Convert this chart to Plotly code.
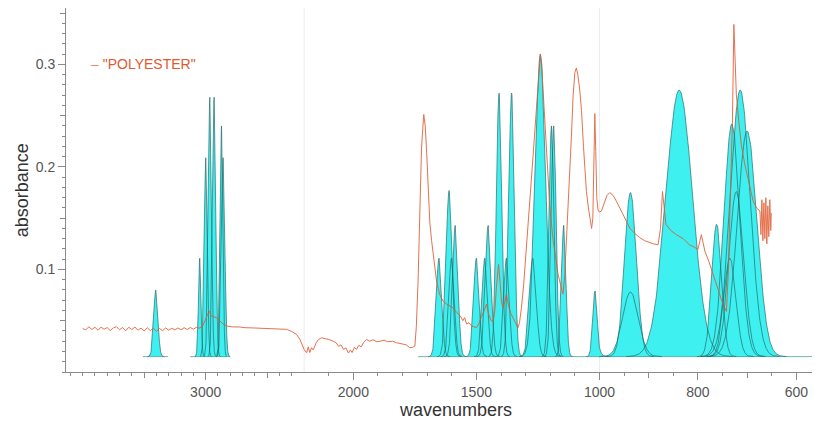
import numpy as np
import plotly.graph_objects as go

# ---------------- data ----------------
# Sample spectrum "POLYESTER": wavenumber (cm-1) and absorbance
poly_wn = [4000, 3975, 3950, 3925, 3900, 3875, 3850, 3825, 3800, 3775, 3750, 3725, 3700, 3675,
           3650, 3625, 3600, 3575, 3550, 3525, 3500, 3475, 3450, 3425, 3400, 3375, 3350, 3325,
           3300, 3275, 3250, 3225, 3200, 3175, 3150, 3125, 3100, 3075, 3050, 3025, 3007, 2990,
           2972, 2960, 2952, 2935, 2911, 2885, 2860, 2830, 2780, 2722, 2680, 2620, 2560, 2478,
           2420, 2343, 2300, 2262, 2235, 2215, 2200, 2190, 2183, 2177, 2170, 2163, 2150, 2140,
           2129, 2115, 2100, 2082, 2070, 2060, 2050, 2040, 2030, 2020, 2012, 2005, 1996, 1987,
           1978, 1968, 1958, 1946, 1935, 1920, 1905, 1892, 1875, 1860, 1840, 1825, 1800, 1785,
           1771, 1760, 1750, 1744, 1737, 1730, 1723, 1714, 1708, 1703, 1696, 1689, 1682, 1672,
           1662, 1650, 1635, 1620, 1605, 1595, 1580, 1565, 1555, 1548, 1540, 1530, 1520, 1510,
           1500, 1490, 1480, 1468, 1459, 1450, 1440, 1432, 1425, 1418, 1410, 1403, 1398, 1392,
           1385, 1378, 1370, 1360, 1351, 1340, 1331, 1325, 1317, 1308, 1300, 1292, 1283, 1270,
           1256, 1247, 1240, 1234, 1226, 1215, 1202, 1188, 1178, 1168, 1158, 1148, 1141, 1134,
           1127, 1121, 1114, 1107, 1100, 1094, 1088, 1080, 1073, 1065, 1058, 1053, 1045, 1038,
           1032, 1027, 1023, 1019, 1015, 1011, 1006, 1000, 996, 990, 985, 979, 972, 965, 959,
           950, 938, 928, 918, 908, 898, 890, 881, 876, 872, 868, 865, 855, 844, 830, 817, 808,
           800, 796, 793, 789, 786, 778, 769, 760, 749, 742, 738, 735, 730, 727, 724, 722, 717,
           712, 705, 698, 693, 688, 681, 674, 672, 670, 668, 666, 664, 662, 660, 658, 656, 654,
           652, 651]
poly_abs = [0.0425, 0.0410, 0.0440, 0.0415, 0.0436, 0.0408, 0.0438, 0.0417, 0.0433, 0.0404,
            0.0430, 0.0442, 0.0412, 0.0434, 0.0403, 0.0436, 0.0414, 0.0439, 0.0407, 0.0428,
            0.0400, 0.0432, 0.0404, 0.0426, 0.0398, 0.0424, 0.0403, 0.0430, 0.0408, 0.0427,
            0.0410, 0.0430, 0.0412, 0.0432, 0.0414, 0.0434, 0.0418, 0.0436, 0.0428, 0.0448,
            0.0497, 0.0540, 0.0595, 0.0560, 0.0546, 0.0538, 0.0530, 0.0497, 0.0470, 0.0448,
            0.0440, 0.0439, 0.0432, 0.0430, 0.0427, 0.0426, 0.0422, 0.0416, 0.0395, 0.0367,
            0.0320, 0.0260, 0.0220, 0.0188, 0.0245, 0.0190, 0.0237, 0.0215, 0.0290, 0.0320,
            0.0334, 0.0325, 0.0318, 0.0300, 0.0285, 0.0250, 0.0265, 0.0220, 0.0235, 0.0185,
            0.0215, 0.0190, 0.0240, 0.0221, 0.0260, 0.0245, 0.0290, 0.0319, 0.0300, 0.0315,
            0.0295, 0.0300, 0.0310, 0.0295, 0.0300, 0.0286, 0.0275, 0.0265, 0.0237, 0.0240,
            0.0253, 0.0450, 0.0887, 0.1500, 0.2186, 0.2512, 0.2400, 0.2186, 0.1760, 0.1450,
            0.1280, 0.1050, 0.0887, 0.0760, 0.0690, 0.0660, 0.0640, 0.0627, 0.0580, 0.0545,
            0.0500, 0.0530, 0.0468, 0.0480, 0.0450, 0.0440, 0.0432, 0.0470, 0.0540, 0.0600,
            0.0663, 0.0560, 0.0500, 0.0497, 0.0600, 0.0850, 0.1050, 0.0850, 0.0680, 0.0627,
            0.0680, 0.0760, 0.0650, 0.0570, 0.0529, 0.0480, 0.0432, 0.0480, 0.0627, 0.0850,
            0.1100, 0.1350, 0.1600, 0.2100, 0.2576, 0.2900, 0.3097, 0.2950, 0.2600, 0.2089,
            0.1620, 0.1277, 0.1100, 0.0952, 0.0850, 0.0760, 0.0950, 0.1277, 0.1650, 0.1930,
            0.2300, 0.2700, 0.2920, 0.2966, 0.2900, 0.2750, 0.2550, 0.2200, 0.1900, 0.1760,
            0.1600, 0.1480, 0.1400, 0.1500, 0.2000, 0.2520, 0.2150, 0.1700, 0.1580, 0.1560,
            0.1570, 0.1650, 0.1720, 0.1750, 0.1720, 0.1660, 0.1600, 0.1510, 0.1400, 0.1350,
            0.1310, 0.1280, 0.1260, 0.1250, 0.1240, 0.1400, 0.1760, 0.1580, 0.1440, 0.1380,
            0.1340, 0.1300, 0.1240, 0.1220, 0.1195, 0.1280, 0.1340, 0.1250, 0.1180, 0.1080,
            0.0950, 0.0800, 0.0660, 0.0590, 0.1000, 0.1570, 0.2420, 0.3390, 0.3000, 0.2710,
            0.2450, 0.2220, 0.2030, 0.1890, 0.1780, 0.1670, 0.1600, 0.1570, 0.1340, 0.1680,
            0.1280, 0.1650, 0.1300, 0.1700, 0.1250, 0.1620, 0.1320, 0.1680, 0.1380, 0.1550]

# Reference (library) bands: centre, peak top absorbance, band width (sigma, cm-1)
ref_center = [3405, 3048, 2999, 2966, 2931, 2871, 2858,
              1652, 1611, 1601, 1586, 1500, 1466, 1452, 1408, 1378, 1357,
              1271, 1240, 1195, 1186, 1145,
              1018, 937, 937, 838, 762, 735, 731, 722, 714, 700]
ref_top = [0.080, 0.111, 0.209, 0.268, 0.268, 0.240, 0.209,
           0.111, 0.177, 0.111, 0.143, 0.111, 0.111, 0.143, 0.272, 0.111, 0.272,
           0.111, 0.310, 0.240, 0.240, 0.143,
           0.079, 0.175, 0.078, 0.275, 0.144, 0.111, 0.242, 0.176, 0.275, 0.235]
ref_sigma = [17, 10, 12, 13, 13, 11, 14,
             11, 12, 11, 11, 11, 11, 12, 11, 11, 11,
             14, 21, 10, 10, 9,
             9, 12, 16, 27, 10, 12, 16, 15, 20, 20]
ref_baseline = 0.015
# wavenumber ranges covered by the reference spectrum
ref_ranges = [(3510, 3306), (3127, 2800), (1737, 550)]

# axis ticks
major_wn = [4000, 3000, 2000, 1500, 1000, 800, 600]
major_txt = ["", "3000", "2000", "1500", "1000", "800", "600"]
medium_wn = [3500, 2500, 900, 700]
minor_wn = (list(range(4100, 2200, -100)) + list(range(2100, 1000, -100))
            + list(range(950, 549, -50)))
y_major = [0.0, 0.1, 0.2, 0.3]
y_major_txt = ["", "0.1", "0.2", "0.3"]
y_medium = [0.05, 0.15, 0.25, 0.35]
y_minor = [round(i * 0.01, 2) for i in range(0, 36)]
breaks_wn = [2200, 1000]


# piecewise-linear wavenumber scale (x2 below 2200, x4 below 1000)
def to_u(wn):
    wn = np.asarray(wn, dtype=float)
    return np.where(wn >= 2200, 4000 - wn,
                    np.where(wn >= 1000, 1800 + (2200 - wn) * 2,
                             4200 + (1000 - wn) * 4))


ORANGE = "#E05A30"
CYAN = "#3EF0F0"
EDGE = "rgba(35,105,105,0.85)"
AXIS = "#8a8a8a"
FONT = "Liberation Sans, Arial, sans-serif"

fig = go.Figure()

# reference band fills
shapes_xy = []
for c, top, s in zip(ref_center, ref_top, ref_sigma):
    w = np.linspace(c - 4 * s, c + 4 * s, 161)
    yv = ref_baseline + (top - ref_baseline) * np.exp(-0.5 * ((w - c) / s) ** 2)
    shapes_xy.append((to_u(w), yv))
    fig.add_trace(go.Scatter(x=to_u(w), y=yv, mode="lines", fill="toself",
                             fillcolor=CYAN, line=dict(width=0), hoverinfo="skip",
                             showlegend=False))
# reference baselines
for a, b in ref_ranges:
    fig.add_trace(go.Scatter(x=to_u([a, b]), y=[ref_baseline, ref_baseline], mode="lines",
                             line=dict(color="rgba(60,150,150,0.7)", width=1),
                             hoverinfo="skip", showlegend=False))
# reference band outlines
for xu, yv in shapes_xy:
    fig.add_trace(go.Scatter(x=xu, y=yv, mode="lines", line=dict(color=EDGE, width=0.8),
                             hoverinfo="skip", showlegend=False))

# sample spectrum
fig.add_trace(go.Scatter(x=to_u(poly_wn), y=poly_abs, mode="lines", name='"POLYESTER"',
                         line=dict(color=ORANGE, width=1), opacity=0.85, showlegend=False))

# invisible trace for overlay axes (medium ticks)
fig.add_trace(go.Scatter(x=[None], y=[None], xaxis="x2", yaxis="y2", showlegend=False,
                         hoverinfo="skip"))

x_range = [float(to_u(4135)), float(to_u(552))]
y_range = [0, 0.355]

for bw in breaks_wn:
    fig.add_shape(type="line", xref="x", yref="paper", x0=float(to_u(bw)), x1=float(to_u(bw)),
                  y0=0, y1=1, line=dict(color="#ececec", width=1), layer="below")

fig.update_layout(
    width=820, height=421,
    margin=dict(l=58, r=8, t=0, b=57),
    paper_bgcolor="white", plot_bgcolor="white",
    font=dict(family=FONT, color="#555555", size=14),
    xaxis=dict(range=x_range, showgrid=False, zeroline=False, showline=True,
               linecolor=AXIS, linewidth=1, ticks="outside", ticklen=7, tickcolor=AXIS,
               tickvals=to_u(major_wn).tolist(), ticktext=major_txt,
               tickfont=dict(size=14, color="#555555"),
               minor=dict(tickvals=to_u(minor_wn).tolist(), ticks="outside", ticklen=3,
                          tickcolor=AXIS, showgrid=False)),
    yaxis=dict(range=y_range, showgrid=False, zeroline=False, showline=True,
               linecolor=AXIS, linewidth=1, ticks="outside", ticklen=7, tickcolor=AXIS,
               tickvals=y_major, ticktext=y_major_txt,
               tickfont=dict(size=14, color="#555555"),
               minor=dict(tickvals=y_minor, ticks="outside", ticklen=3, tickcolor=AXIS,
                          showgrid=False)),
    xaxis2=dict(range=x_range, overlaying="x", anchor="y", side="bottom", showgrid=False,
                zeroline=False, showline=False, showticklabels=False, ticks="outside",
                ticklen=5, tickcolor=AXIS, tickvals=to_u(medium_wn).tolist()),
    yaxis2=dict(range=y_range, overlaying="y", anchor="x", side="left", showgrid=False,
                zeroline=False, showline=False, showticklabels=False, ticks="outside",
                ticklen=5, tickcolor=AXIS, tickvals=y_medium),
    annotations=[
        dict(text="wavenumbers", xref="paper", yref="paper", x=0.516, y=-0.105,
             xanchor="center", yanchor="middle", showarrow=False,
             font=dict(size=18, color="#333333", family=FONT)),
        dict(text="absorbance", xref="paper", yref="paper", x=-0.058, y=0.5,
             xanchor="center", yanchor="middle", textangle=-90, showarrow=False,
             font=dict(size=18, color="#333333", family=FONT)),
        dict(text='<span style="color:#E8906E">–</span> "POLYESTER"', xref="paper",
             yref="paper", x=0.031, y=0.846, xanchor="left", yanchor="middle",
             showarrow=False, font=dict(size=14, color=ORANGE, family=FONT)),
    ],
)

fig.write_html("out.html")
